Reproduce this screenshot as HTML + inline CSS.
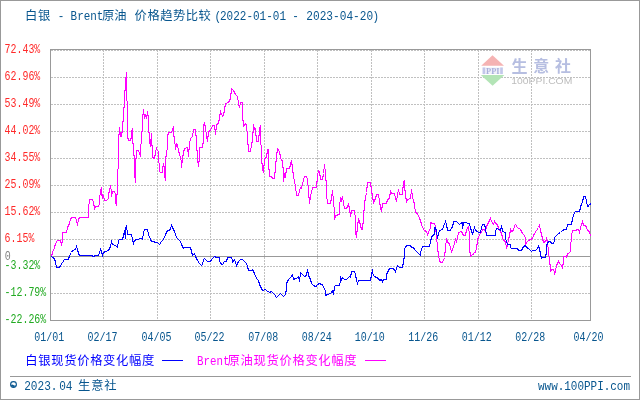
<!DOCTYPE html>
<html lang="zh-CN">
<head>
<meta charset="utf-8">
<title>白银 - Brent原油 价格趋势比较</title>
<style>
html,body{margin:0;padding:0;background:#fff;}
body{width:640px;height:400px;overflow:hidden;}
svg{display:block;}

</style>
</head>
<body>
<svg width="640" height="400" viewBox="0 0 640 400">
<rect x="0" y="0" width="640" height="400" fill="#fff"/>
<rect x="0.5" y="0.5" width="639" height="399" fill="none" stroke="#999" stroke-width="1" shape-rendering="crispEdges"/>
<g stroke="#c0c0c0" stroke-width="1" stroke-dasharray="2 1" shape-rendering="crispEdges"><line x1="51" y1="50.5" x2="590" y2="50.5"/><line x1="51" y1="77.5" x2="590" y2="77.5"/><line x1="51" y1="104.5" x2="590" y2="104.5"/><line x1="51" y1="131.5" x2="590" y2="131.5"/><line x1="51" y1="158.5" x2="590" y2="158.5"/><line x1="51" y1="185.5" x2="590" y2="185.5"/><line x1="51" y1="212.5" x2="590" y2="212.5"/><line x1="51" y1="239.5" x2="590" y2="239.5"/><line x1="51" y1="266.5" x2="590" y2="266.5"/><line x1="51" y1="293.5" x2="590" y2="293.5"/><line x1="103.5" y1="50" x2="103.5" y2="320"/><line x1="157.5" y1="50" x2="157.5" y2="320"/><line x1="210.5" y1="50" x2="210.5" y2="320"/><line x1="264.5" y1="50" x2="264.5" y2="320"/><line x1="317.5" y1="50" x2="317.5" y2="320"/><line x1="371.5" y1="50" x2="371.5" y2="320"/><line x1="424.5" y1="50" x2="424.5" y2="320"/><line x1="478.5" y1="50" x2="478.5" y2="320"/><line x1="531.5" y1="50" x2="531.5" y2="320"/></g>
<line x1="51" y1="256.5" x2="590" y2="256.5" stroke="#999" stroke-width="1" shape-rendering="crispEdges"/>
<rect x="50.5" y="49.5" width="540" height="271" fill="none" stroke="#999" stroke-width="1" shape-rendering="crispEdges"/>
<g id="logo">
<polygon points="492.5,55.3 504,65.8 481.2,65.8" fill="#f5b3b3"/>
<rect x="482.5" y="67.5" width="20.5" height="6.6" fill="#f0f1fa"/>
<rect x="482.6" y="67.5" width="2.6" height="6.6" fill="#c3c7ea"/>
<rect x="500.2" y="67.5" width="2.6" height="6.6" fill="#c3c7ea"/>
<text x="486" y="73.9" font-size="8" font-weight="bold" font-family='"Liberation Serif", serif' fill="#a9b0dc" textLength="13.6" lengthAdjust="spacingAndGlyphs">PPI</text>
<polygon points="480.8,74.9 504.4,74.9 492.6,85.8" fill="#b3e4b6"/>
<text x="511.5" y="72" font-size="16" font-weight="bold" font-family='"Liberation Sans", "Noto Sans CJK SC", sans-serif' fill="#b6bee1" textLength="59.5" lengthAdjust="spacing">生意社</text>
<text x="511.3" y="83.9" font-size="9" font-family='"Liberation Sans", sans-serif' fill="#bcbcbc" textLength="61" lengthAdjust="spacingAndGlyphs">100PPI.COM</text>
</g>
<polyline points="51.5,256.5 52.5,252.5 54.5,247.5 55.5,243.5 57.5,240.5 60.5,240.5 61.5,245.5 62.5,239.5 62.5,232.5 66.5,232.5 67.5,227.5 69.5,223.5 70.5,218.5 72.5,217.5 75.5,217.5 76.5,220.5 77.5,225.5 78.5,218.5 80.5,217.5 88.5,217.5 88.5,208.5 89.5,199.5 92.5,199.5 93.5,202.5 94.5,208.5 95.5,206.5 98.5,206.5 99.5,203.5 99.5,198.5 100.5,191.5 101.5,187.5 101.5,192.5 102.5,198.5 102.5,194.5 103.5,195.5 104.5,200.5 106.5,200.5 108.5,198.5 108.5,195.5 109.5,189.5 110.5,186.5 111.5,191.5 111.5,196.5 112.5,191.5 114.5,191.5 115.5,194.5 115.5,201.5 116.5,205.5 116.5,195.5 117.5,193.5 117.5,185.5 117.5,169.5 118.5,168.5 118.5,142.5 119.5,127.5 120.5,136.5 121.5,136.5 122.5,128.5 123.5,115.5 124.5,99.5 125.5,81.5 126.5,72.5 126.5,97.5 127.5,104.5 127.5,136.5 128.5,140.5 130.5,140.5 131.5,136.5 131.5,131.5 132.5,128.5 132.5,138.5 133.5,148.5 134.5,162.5 134.5,172.5 135.5,182.5 135.5,166.5 136.5,150.5 138.5,150.5 139.5,153.5 140.5,156.5 140.5,144.5 141.5,143.5 141.5,131.5 142.5,131.5 142.5,120.5 143.5,109.5 144.5,118.5 145.5,114.5 146.5,118.5 147.5,111.5 148.5,119.5 148.5,131.5 149.5,133.5 149.5,141.5 150.5,146.5 151.5,133.5 151.5,144.5 152.5,146.5 152.5,157.5 154.5,158.5 155.5,152.5 156.5,147.5 156.5,149.5 157.5,150.5 158.5,151.5 158.5,160.5 159.5,165.5 159.5,171.5 160.5,172.5 162.5,172.5 162.5,167.5 163.5,164.5 164.5,168.5 164.5,175.5 165.5,180.5 165.5,163.5 166.5,150.5 167.5,149.5 167.5,136.5 168.5,132.5 171.5,132.5 173.5,126.5 173.5,134.5 174.5,138.5 175.5,149.5 176.5,143.5 177.5,144.5 178.5,151.5 179.5,153.5 181.5,162.5 181.5,167.5 182.5,158.5 183.5,152.5 184.5,148.5 187.5,147.5 188.5,156.5 189.5,143.5 190.5,138.5 192.5,136.5 193.5,129.5 195.5,129.5 196.5,141.5 197.5,158.5 198.5,166.5 199.5,156.5 199.5,147.5 202.5,147.5 203.5,139.5 203.5,126.5 204.5,122.5 205.5,128.5 207.5,141.5 208.5,131.5 210.5,130.5 212.5,125.5 214.5,125.5 215.5,134.5 216.5,124.5 218.5,123.5 220.5,111.5 222.5,116.5 223.5,115.5 225.5,103.5 228.5,102.5 230.5,98.5 231.5,88.5 233.5,90.5 235.5,94.5 237.5,96.5 238.5,103.5 239.5,107.5 240.5,102.5 242.5,102.5 242.5,113.5 243.5,126.5 245.5,123.5 246.5,125.5 247.5,136.5 248.5,151.5 250.5,151.5 251.5,144.5 252.5,140.5 253.5,124.5 254.5,129.5 255.5,128.5 256.5,141.5 258.5,141.5 259.5,129.5 260.5,125.5 260.5,144.5 261.5,145.5 261.5,158.5 262.5,168.5 263.5,172.5 264.5,158.5 266.5,157.5 267.5,149.5 268.5,149.5 268.5,162.5 269.5,176.5 271.5,176.5 272.5,178.5 274.5,178.5 275.5,166.5 276.5,156.5 277.5,148.5 279.5,151.5 280.5,157.5 281.5,160.5 282.5,160.5 283.5,173.5 283.5,181.5 284.5,174.5 285.5,176.5 286.5,168.5 289.5,168.5 291.5,160.5 292.5,168.5 293.5,176.5 295.5,186.5 296.5,195.5 298.5,195.5 299.5,190.5 300.5,187.5 301.5,188.5 303.5,179.5 304.5,176.5 306.5,176.5 307.5,179.5 308.5,190.5 309.5,203.5 310.5,196.5 312.5,187.5 316.5,187.5 317.5,175.5 318.5,170.5 319.5,171.5 320.5,179.5 322.5,179.5 323.5,173.5 324.5,164.5 325.5,173.5 326.5,186.5 326.5,194.5 327.5,203.5 330.5,203.5 331.5,197.5 332.5,190.5 333.5,201.5 334.5,212.5 334.5,219.5 335.5,215.5 339.5,214.5 339.5,205.5 340.5,198.5 341.5,200.5 342.5,196.5 343.5,203.5 344.5,208.5 346.5,208.5 348.5,204.5 349.5,208.5 350.5,216.5 351.5,210.5 354.5,210.5 355.5,219.5 355.5,231.5 356.5,237.5 357.5,226.5 358.5,218.5 359.5,221.5 361.5,229.5 362.5,229.5 363.5,217.5 364.5,203.5 366.5,192.5 367.5,182.5 370.5,182.5 371.5,190.5 372.5,196.5 373.5,202.5 375.5,198.5 376.5,194.5 378.5,194.5 379.5,201.5 380.5,207.5 381.5,211.5 382.5,203.5 386.5,203.5 387.5,199.5 389.5,198.5 390.5,190.5 391.5,193.5 394.5,193.5 395.5,198.5 396.5,201.5 397.5,194.5 398.5,189.5 399.5,194.5 402.5,194.5 403.5,181.5 404.5,180.5 404.5,186.5 405.5,194.5 406.5,202.5 407.5,199.5 410.5,198.5 411.5,189.5 412.5,196.5 413.5,201.5 413.5,199.5 414.5,205.5 415.5,212.5 417.5,213.5 419.5,218.5 420.5,220.5 421.5,224.5 423.5,229.5 424.5,230.5 426.5,231.5 427.5,234.5 428.5,232.5 430.5,227.5 430.5,222.5 432.5,223.5 434.5,223.5 435.5,226.5 436.5,236.5 437.5,247.5 438.5,255.5 439.5,260.5 440.5,262.5 442.5,262.5 444.5,257.5 445.5,247.5 446.5,238.5 447.5,242.5 449.5,243.5 450.5,248.5 451.5,251.5 452.5,249.5 454.5,243.5 455.5,238.5 456.5,242.5 457.5,237.5 458.5,232.5 461.5,231.5 463.5,235.5 465.5,235.5 466.5,229.5 468.5,226.5 469.5,235.5 469.5,248.5 470.5,256.5 472.5,254.5 474.5,253.5 475.5,251.5 476.5,248.5 477.5,240.5 478.5,236.5 480.5,233.5 481.5,232.5 482.5,229.5 484.5,229.5 485.5,231.5 486.5,226.5 488.5,222.5 490.5,218.5 491.5,221.5 493.5,224.5 494.5,221.5 495.5,223.5 497.5,224.5 498.5,228.5 500.5,231.5 501.5,233.5 502.5,237.5 503.5,240.5 505.5,241.5 506.5,248.5 507.5,244.5 508.5,239.5 509.5,235.5 510.5,229.5 511.5,231.5 513.5,230.5 514.5,225.5 515.5,224.5 517.5,227.5 520.5,229.5 522.5,233.5 523.5,234.5 525.5,237.5 525.5,245.5 526.5,242.5 528.5,240.5 530.5,239.5 532.5,238.5 533.5,235.5 534.5,233.5 536.5,230.5 538.5,227.5 539.5,225.5 540.5,230.5 541.5,234.5 542.5,238.5 543.5,242.5 545.5,241.5 546.5,238.5 547.5,242.5 548.5,251.5 549.5,260.5 550.5,268.5 550.5,271.5 551.5,269.5 553.5,269.5 554.5,272.5 554.5,274.5 555.5,270.5 556.5,265.5 557.5,263.5 558.5,261.5 559.5,263.5 560.5,264.5 561.5,265.5 562.5,268.5 563.5,260.5 563.5,256.5 565.5,256.5 566.5,257.5 567.5,253.5 568.5,253.5 570.5,251.5 570.5,245.5 571.5,238.5 571.5,235.5 572.5,230.5 575.5,230.5 577.5,229.5 578.5,229.5 579.5,232.5 580.5,227.5 582.5,221.5 583.5,225.5 585.5,225.5 586.5,227.5 587.5,230.5 589.5,231.5 590.5,236.5" fill="none" stroke="#ff00ff" stroke-width="1.05" shape-rendering="crispEdges"/>
<polyline points="51.5,256.5 52.5,257.5 54.5,258.5 55.5,262.5 56.5,267.5 59.5,267.5 60.5,265.5 62.5,262.5 64.5,259.5 68.5,259.5 69.5,255.5 71.5,252.5 72.5,250.5 75.5,249.5 76.5,246.5 77.5,249.5 78.5,253.5 79.5,255.5 91.5,255.5 93.5,256.5 95.5,255.5 98.5,255.5 99.5,252.5 100.5,249.5 101.5,251.5 102.5,255.5 103.5,252.5 105.5,251.5 108.5,250.5 110.5,246.5 111.5,241.5 112.5,244.5 115.5,245.5 117.5,247.5 118.5,240.5 119.5,239.5 122.5,239.5 123.5,235.5 124.5,230.5 125.5,238.5 125.5,228.5 126.5,225.5 127.5,234.5 131.5,234.5 132.5,239.5 133.5,243.5 134.5,240.5 136.5,239.5 141.5,238.5 142.5,239.5 143.5,232.5 144.5,229.5 147.5,229.5 148.5,234.5 150.5,239.5 151.5,241.5 157.5,242.5 159.5,244.5 161.5,241.5 163.5,239.5 165.5,234.5 167.5,230.5 169.5,230.5 170.5,228.5 171.5,225.5 172.5,227.5 174.5,231.5 175.5,234.5 176.5,237.5 178.5,239.5 180.5,241.5 181.5,244.5 183.5,248.5 184.5,247.5 190.5,247.5 191.5,251.5 192.5,255.5 194.5,253.5 195.5,256.5 197.5,260.5 199.5,263.5 201.5,265.5 202.5,264.5 203.5,259.5 204.5,258.5 206.5,260.5 207.5,261.5 210.5,261.5 211.5,259.5 213.5,257.5 214.5,256.5 216.5,257.5 219.5,257.5 219.5,260.5 220.5,263.5 222.5,264.5 224.5,261.5 226.5,261.5 227.5,257.5 231.5,257.5 232.5,260.5 232.5,262.5 234.5,259.5 235.5,262.5 236.5,265.5 238.5,261.5 240.5,259.5 242.5,259.5 244.5,261.5 246.5,263.5 247.5,266.5 248.5,270.5 251.5,270.5 252.5,269.5 254.5,273.5 256.5,278.5 258.5,280.5 259.5,284.5 261.5,288.5 262.5,290.5 265.5,289.5 266.5,290.5 269.5,292.5 271.5,291.5 272.5,292.5 274.5,294.5 276.5,297.5 278.5,295.5 280.5,293.5 281.5,294.5 283.5,296.5 285.5,294.5 286.5,288.5 286.5,283.5 288.5,279.5 290.5,277.5 292.5,274.5 293.5,279.5 295.5,278.5 296.5,278.5 298.5,276.5 299.5,281.5 300.5,272.5 302.5,274.5 304.5,276.5 306.5,275.5 307.5,269.5 308.5,275.5 310.5,279.5 311.5,283.5 313.5,285.5 315.5,286.5 317.5,285.5 318.5,283.5 322.5,284.5 323.5,287.5 325.5,290.5 325.5,295.5 327.5,294.5 330.5,293.5 332.5,290.5 333.5,294.5 334.5,286.5 335.5,285.5 339.5,285.5 340.5,280.5 340.5,276.5 341.5,279.5 342.5,277.5 344.5,279.5 346.5,279.5 348.5,277.5 349.5,276.5 350.5,277.5 351.5,271.5 354.5,271.5 355.5,274.5 356.5,280.5 357.5,283.5 358.5,280.5 370.5,280.5 371.5,274.5 372.5,269.5 372.5,273.5 374.5,276.5 376.5,277.5 378.5,278.5 379.5,280.5 381.5,279.5 382.5,281.5 383.5,279.5 386.5,279.5 386.5,274.5 388.5,270.5 389.5,268.5 392.5,268.5 394.5,269.5 395.5,271.5 396.5,268.5 397.5,265.5 399.5,267.5 402.5,267.5 403.5,261.5 404.5,255.5 404.5,249.5 405.5,246.5 407.5,245.5 410.5,245.5 411.5,247.5 413.5,247.5 414.5,249.5 416.5,251.5 417.5,252.5 419.5,254.5 420.5,255.5 420.5,252.5 422.5,246.5 423.5,246.5 429.5,246.5 430.5,241.5 431.5,237.5 432.5,235.5 434.5,234.5 434.5,227.5 435.5,227.5 436.5,231.5 437.5,238.5 438.5,233.5 439.5,230.5 442.5,229.5 443.5,226.5 445.5,221.5 446.5,224.5 447.5,230.5 450.5,230.5 451.5,227.5 452.5,227.5 453.5,221.5 456.5,221.5 457.5,222.5 459.5,224.5 460.5,223.5 462.5,222.5 462.5,228.5 463.5,222.5 466.5,222.5 467.5,223.5 469.5,223.5 470.5,228.5 471.5,230.5 472.5,234.5 473.5,230.5 474.5,227.5 475.5,230.5 477.5,231.5 478.5,232.5 480.5,232.5 481.5,227.5 482.5,224.5 484.5,224.5 485.5,228.5 486.5,235.5 495.5,235.5 495.5,231.5 496.5,228.5 499.5,229.5 500.5,230.5 501.5,225.5 502.5,231.5 505.5,232.5 505.5,238.5 507.5,244.5 510.5,244.5 510.5,247.5 511.5,248.5 517.5,248.5 518.5,250.5 521.5,250.5 523.5,246.5 525.5,245.5 526.5,247.5 528.5,248.5 529.5,249.5 531.5,251.5 532.5,250.5 535.5,250.5 537.5,248.5 538.5,246.5 539.5,248.5 540.5,254.5 541.5,258.5 542.5,257.5 545.5,257.5 546.5,251.5 546.5,246.5 547.5,242.5 549.5,241.5 550.5,241.5 551.5,243.5 553.5,243.5 554.5,240.5 554.5,237.5 556.5,235.5 558.5,233.5 560.5,232.5 562.5,230.5 564.5,229.5 566.5,229.5 567.5,224.5 569.5,224.5 571.5,224.5 572.5,218.5 574.5,212.5 575.5,211.5 579.5,211.5 580.5,207.5 581.5,203.5 582.5,202.5 583.5,196.5 585.5,196.5 586.5,201.5 587.5,206.5 589.5,205.5 590.5,203.5" fill="none" stroke="#0000ff" stroke-width="1.05" shape-rendering="crispEdges"/>
<text x="24.90" y="19.70" font-size="12.3" font-family='"Liberation Sans", "Noto Sans CJK SC", sans-serif' fill="#08568e" textLength="25.40" lengthAdjust="spacing">白银</text>
<text x="57.70" y="19.50" font-size="13.5" font-family='"Liberation Mono", monospace' fill="#08568e" textLength="6.60" lengthAdjust="spacingAndGlyphs">-</text>
<text x="70.60" y="19.50" font-size="13.5" font-family='"Liberation Mono", monospace' fill="#08568e" textLength="32.80" lengthAdjust="spacingAndGlyphs">Brent</text>
<text x="102.00" y="19.70" font-size="12.3" font-family='"Liberation Sans", "Noto Sans CJK SC", sans-serif' fill="#08568e" textLength="24.60" lengthAdjust="spacing">原油</text>
<text x="134.60" y="19.70" font-size="12.3" font-family='"Liberation Sans", "Noto Sans CJK SC", sans-serif' fill="#08568e" textLength="76.20" lengthAdjust="spacing">价格趋势比较</text>
<text x="214.50" y="19.50" font-size="13.5" font-family='"Liberation Mono", monospace' fill="#08568e" textLength="6.60" lengthAdjust="spacingAndGlyphs">(</text>
<text x="220.00" y="19.50" font-size="13.5" font-family='"Liberation Mono", monospace' fill="#08568e" textLength="66.00" lengthAdjust="spacingAndGlyphs">2022-01-01</text>
<text x="292.30" y="19.50" font-size="13.5" font-family='"Liberation Mono", monospace' fill="#08568e" textLength="6.60" lengthAdjust="spacingAndGlyphs">-</text>
<text x="306.30" y="19.50" font-size="13.5" font-family='"Liberation Mono", monospace' fill="#08568e" textLength="66.80" lengthAdjust="spacingAndGlyphs">2023-04-20</text>
<text x="372.60" y="19.50" font-size="13.5" font-family='"Liberation Mono", monospace' fill="#08568e" textLength="6.60" lengthAdjust="spacingAndGlyphs">)</text>
<text x="4.60" y="53.20" font-size="12.3" font-family='"Liberation Mono", monospace' fill="#ff2a2a" textLength="35.70" lengthAdjust="spacingAndGlyphs">72.43%</text>
<text x="4.60" y="80.20" font-size="12.3" font-family='"Liberation Mono", monospace' fill="#ff2a2a" textLength="35.70" lengthAdjust="spacingAndGlyphs">62.96%</text>
<text x="4.60" y="107.20" font-size="12.3" font-family='"Liberation Mono", monospace' fill="#ff2a2a" textLength="35.70" lengthAdjust="spacingAndGlyphs">53.49%</text>
<text x="4.60" y="134.20" font-size="12.3" font-family='"Liberation Mono", monospace' fill="#ff2a2a" textLength="35.70" lengthAdjust="spacingAndGlyphs">44.02%</text>
<text x="4.60" y="161.20" font-size="12.3" font-family='"Liberation Mono", monospace' fill="#ff2a2a" textLength="35.70" lengthAdjust="spacingAndGlyphs">34.55%</text>
<text x="4.60" y="188.20" font-size="12.3" font-family='"Liberation Mono", monospace' fill="#ff2a2a" textLength="35.70" lengthAdjust="spacingAndGlyphs">25.09%</text>
<text x="4.60" y="215.20" font-size="12.3" font-family='"Liberation Mono", monospace' fill="#ff2a2a" textLength="35.70" lengthAdjust="spacingAndGlyphs">15.62%</text>
<text x="4.60" y="242.20" font-size="12.3" font-family='"Liberation Mono", monospace' fill="#ff2a2a" textLength="29.75" lengthAdjust="spacingAndGlyphs">6.15%</text>
<text x="4.60" y="269.20" font-size="12.3" font-family='"Liberation Mono", monospace' fill="#22aa22" textLength="35.70" lengthAdjust="spacingAndGlyphs">-3.32%</text>
<text x="4.60" y="296.20" font-size="12.3" font-family='"Liberation Mono", monospace' fill="#22aa22" textLength="41.65" lengthAdjust="spacingAndGlyphs">-12.79%</text>
<text x="4.60" y="323.20" font-size="12.3" font-family='"Liberation Mono", monospace' fill="#22aa22" textLength="41.65" lengthAdjust="spacingAndGlyphs">-22.26%</text>
<text x="4.70" y="259.50" font-size="12.3" font-family='"Liberation Mono", monospace' fill="#808080" textLength="6.00" lengthAdjust="spacingAndGlyphs">0</text>
<text x="34.30" y="341.30" font-size="12.3" font-family='"Liberation Mono", monospace' fill="#08568e" textLength="30.00" lengthAdjust="spacingAndGlyphs">01/01</text>
<text x="87.50" y="341.30" font-size="12.3" font-family='"Liberation Mono", monospace' fill="#08568e" textLength="30.00" lengthAdjust="spacingAndGlyphs">02/17</text>
<text x="141.40" y="341.30" font-size="12.3" font-family='"Liberation Mono", monospace' fill="#08568e" textLength="30.00" lengthAdjust="spacingAndGlyphs">04/05</text>
<text x="194.60" y="341.30" font-size="12.3" font-family='"Liberation Mono", monospace' fill="#08568e" textLength="30.00" lengthAdjust="spacingAndGlyphs">05/22</text>
<text x="248.30" y="341.30" font-size="12.3" font-family='"Liberation Mono", monospace' fill="#08568e" textLength="30.00" lengthAdjust="spacingAndGlyphs">07/08</text>
<text x="301.80" y="341.30" font-size="12.3" font-family='"Liberation Mono", monospace' fill="#08568e" textLength="30.00" lengthAdjust="spacingAndGlyphs">08/24</text>
<text x="354.80" y="341.30" font-size="12.3" font-family='"Liberation Mono", monospace' fill="#08568e" textLength="30.00" lengthAdjust="spacingAndGlyphs">10/10</text>
<text x="408.20" y="341.30" font-size="12.3" font-family='"Liberation Mono", monospace' fill="#08568e" textLength="30.00" lengthAdjust="spacingAndGlyphs">11/26</text>
<text x="461.80" y="341.30" font-size="12.3" font-family='"Liberation Mono", monospace' fill="#08568e" textLength="30.00" lengthAdjust="spacingAndGlyphs">01/12</text>
<text x="515.30" y="341.30" font-size="12.3" font-family='"Liberation Mono", monospace' fill="#08568e" textLength="30.00" lengthAdjust="spacingAndGlyphs">02/28</text>
<text x="573.40" y="341.30" font-size="12.3" font-family='"Liberation Mono", monospace' fill="#08568e" textLength="30.00" lengthAdjust="spacingAndGlyphs">04/20</text>
<text x="25.30" y="364.60" font-size="12.3" font-family='"Liberation Sans", "Noto Sans CJK SC", sans-serif' fill="#0000ff" textLength="129.00" lengthAdjust="spacing">白银现货价格变化幅度</text>
<line x1="162" y1="360.5" x2="183" y2="360.5" stroke="#0000ff" stroke-width="1" shape-rendering="crispEdges"/>
<text x="196.90" y="365.20" font-size="13.5" font-family='"Liberation Mono", monospace' fill="#ff00ff" textLength="32.50" lengthAdjust="spacingAndGlyphs">Brent</text>
<text x="227.60" y="364.60" font-size="12.3" font-family='"Liberation Sans", "Noto Sans CJK SC", sans-serif' fill="#ff00ff" textLength="129.00" lengthAdjust="spacing">原油现货价格变化幅度</text>
<line x1="365" y1="360.5" x2="386" y2="360.5" stroke="#ff00ff" stroke-width="1" shape-rendering="crispEdges"/>
<line x1="10" y1="376.5" x2="631" y2="376.5" stroke="#999" stroke-width="1" shape-rendering="crispEdges"/>
<circle cx="13.5" cy="384.5" r="2.9" fill="#fff" stroke="#08568e" stroke-width="1.1"/><path d="M10.8 385 a2.8 2.8 0 0 0 5.4 0 q-1.4 1.1 -2.7 0 q-1.3 -1.1 -2.7 0z" fill="#08568e"/>
<text x="24.20" y="389.70" font-size="13.5" font-family='"Liberation Mono", monospace' fill="#08568e" textLength="33.30" lengthAdjust="spacingAndGlyphs">2023.</text>
<text x="59.20" y="389.70" font-size="13.5" font-family='"Liberation Mono", monospace' fill="#08568e" textLength="13.30" lengthAdjust="spacingAndGlyphs">04</text>
<text x="78.10" y="390.30" font-size="12.3" font-family='"Liberation Sans", "Noto Sans CJK SC", sans-serif' fill="#08568e" textLength="38.40" lengthAdjust="spacing">生意社</text>
<text x="538.00" y="389.70" font-size="13.5" font-family='"Liberation Mono", monospace' fill="#08568e" textLength="92.00" lengthAdjust="spacingAndGlyphs">www.100PPI.com</text>
</svg>
</body>
</html>
